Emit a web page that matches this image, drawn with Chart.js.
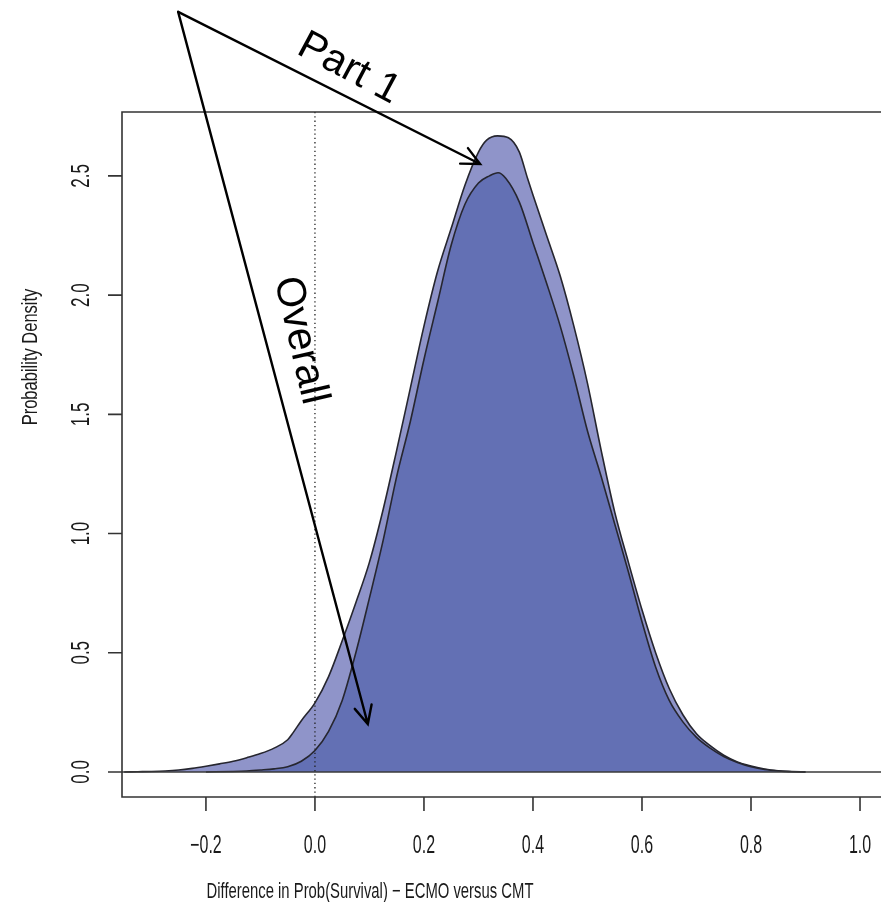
<!DOCTYPE html>
<html>
<head>
<meta charset="utf-8">
<script src="https://cdn.jsdelivr.net/npm/chart.js@4.4.0/dist/chart.umd.min.js"></script>
<style>
    body { margin: 0; background: #fff; }
    canvas { display: block; }
</style>
</head>
<body>
<canvas id="densityChart" width="881" height="902"></canvas>
<script>
// density curves
const part1X = [-0.35, -0.325, -0.3, -0.275, -0.25, -0.225, -0.2, -0.175, -0.15, -0.125, -0.1, -0.075, -0.05, -0.04, -0.025, 0.0, 0.025, 0.05, 0.075, 0.1, 0.125, 0.15, 0.175, 0.2, 0.225, 0.25, 0.275, 0.3, 0.315, 0.335, 0.355, 0.375, 0.39, 0.4, 0.425, 0.45, 0.475, 0.5, 0.525, 0.55, 0.575, 0.6, 0.625, 0.65, 0.675, 0.7, 0.725, 0.75, 0.775, 0.8, 0.825, 0.85, 0.875, 0.9];
const part1Y = [0.0, 0.001, 0.002, 0.004, 0.008, 0.015, 0.024, 0.034, 0.045, 0.06, 0.077, 0.1, 0.135, 0.165, 0.215, 0.29, 0.4, 0.55, 0.71, 0.88, 1.1, 1.35, 1.61, 1.87, 2.1, 2.28, 2.46, 2.6, 2.65, 2.668, 2.66, 2.6, 2.49, 2.42, 2.25, 2.08, 1.87, 1.63, 1.35, 1.09, 0.88, 0.68, 0.5, 0.35, 0.24, 0.16, 0.11, 0.07, 0.042, 0.025, 0.012, 0.005, 0.002, 0.0];

const overallX = [-0.2, -0.15, -0.125, -0.1, -0.075, -0.05, -0.025, 0.0, 0.025, 0.05, 0.075, 0.1, 0.125, 0.15, 0.175, 0.2, 0.225, 0.25, 0.275, 0.3, 0.32, 0.336, 0.35, 0.375, 0.4, 0.425, 0.45, 0.475, 0.5, 0.525, 0.55, 0.575, 0.6, 0.625, 0.65, 0.675, 0.7, 0.725, 0.75, 0.775, 0.8, 0.825, 0.85, 0.875, 0.9];
const overallY = [0.0, 0.002, 0.004, 0.008, 0.013, 0.022, 0.045, 0.09, 0.17, 0.3, 0.5, 0.73, 0.97, 1.24, 1.47, 1.73, 1.97, 2.21, 2.38, 2.47, 2.5, 2.513, 2.49, 2.39, 2.22, 2.05, 1.87, 1.66, 1.43, 1.24, 1.04, 0.84, 0.63, 0.44, 0.3, 0.21, 0.145, 0.1, 0.065, 0.04, 0.022, 0.01, 0.004, 0.001, 0.0];

const xTicks = [-0.2, 0.0, 0.2, 0.4, 0.6, 0.8, 1.0];
const xTickLabels = ['\u22120.2', '0.0', '0.2', '0.4', '0.6', '0.8', '1.0'];
const yTicks = [0.0, 0.5, 1.0, 1.5, 2.0, 2.5];
const yTickLabels = ['0.0', '0.5', '1.0', '1.5', '2.0', '2.5'];

const xTitle = 'Difference in Prob(Survival) \u2212 ECMO versus CMT';
const yTitle = 'Probability Density';

// hand-drawn arrows, anchored in data units
const arrowStart = { x: -0.251, y: 3.188 };
const arrowTips = [
    { x: 0.303, y: 2.55 },
    { x: 0.097, y: 0.201 }
];
const notes = [
    { text: 'Part 1', x: 0.062, y: 2.95, angle: 28 },
    { text: 'Overall', x: -0.027, y: 1.81, angle: 77 }
];

function toPoints(xs, ys) {
    return xs.map((x, i) => ({ x: x, y: ys[i] }));
}

// R output here is squashed sideways, so text is narrowed
function squeezedText(ctx, text, x, y, rot, font, squeeze) {
    ctx.save();
    ctx.translate(x, y);
    ctx.rotate(rot);
    ctx.scale(squeeze, 1);
    ctx.font = font;
    ctx.textAlign = 'center';
    ctx.textBaseline = 'middle';
    ctx.fillText(text, 0, 0);
    ctx.restore();
}

const rAxes = {
    id: 'rAxes',
    afterDatasetsDraw(chart) {
        const { ctx, chartArea: a, scales: { x, y } } = chart;
        ctx.save();
        ctx.beginPath();
        ctx.rect(a.left, a.top, a.right - a.left, a.bottom - a.top);
        ctx.clip();
        // zero line
        ctx.strokeStyle = '#3a3a3a';
        ctx.lineWidth = 1.6;
        ctx.beginPath();
        ctx.moveTo(a.left, y.getPixelForValue(0));
        ctx.lineTo(a.right, y.getPixelForValue(0));
        ctx.stroke();
        // dotted reference at 0
        ctx.strokeStyle = '#222';
        ctx.lineWidth = 1.3;
        ctx.setLineDash([1.3, 3]);
        ctx.beginPath();
        ctx.moveTo(x.getPixelForValue(0), a.top);
        ctx.lineTo(x.getPixelForValue(0), a.bottom);
        ctx.stroke();
        ctx.restore();

        ctx.save();
        ctx.strokeStyle = '#333';
        ctx.lineWidth = 1.6;
        ctx.beginPath();
        ctx.moveTo(a.right + 2, a.top);
        ctx.lineTo(a.left, a.top);
        ctx.lineTo(a.left, a.bottom);
        ctx.lineTo(a.right + 2, a.bottom);
        ctx.stroke();

        ctx.fillStyle = '#1a1a1a';
        ctx.beginPath();
        xTicks.forEach(v => {
            const px = x.getPixelForValue(v);
            ctx.moveTo(px, a.bottom);
            ctx.lineTo(px, a.bottom + 14);
        });
        yTicks.forEach(v => {
            const py = y.getPixelForValue(v);
            ctx.moveTo(a.left - 14, py);
            ctx.lineTo(a.left, py);
        });
        ctx.stroke();

        const tickFont = '25px "Liberation Sans", Arial, sans-serif';
        const titleFont = '22px "Liberation Sans", Arial, sans-serif';
        xTicks.forEach((v, i) => {
            squeezedText(ctx, xTickLabels[i], x.getPixelForValue(v), a.bottom + 49, 0, tickFont, 0.64);
        });
        yTicks.forEach((v, i) => {
            squeezedText(ctx, yTickLabels[i], a.left - 40, y.getPixelForValue(v), -Math.PI / 2, tickFont, 0.68);
        });
        squeezedText(ctx, xTitle, 370, a.bottom + 95, 0, titleFont, 0.675);
        squeezedText(ctx, yTitle, 31, 357, -Math.PI / 2, titleFont, 0.75);
        ctx.restore();
    },
    afterDraw(chart) {
        const { ctx, scales: { x, y } } = chart;
        const sx = x.getPixelForValue(arrowStart.x);
        const sy = y.getPixelForValue(arrowStart.y);
        ctx.save();
        ctx.strokeStyle = '#000';
        ctx.lineWidth = 2.4;
        ctx.lineCap = 'round';
        arrowTips.forEach(t => {
            const tx = x.getPixelForValue(t.x);
            const ty = y.getPixelForValue(t.y);
            const ang = Math.atan2(ty - sy, tx - sx);
            ctx.beginPath();
            ctx.moveTo(sx, sy);
            ctx.lineTo(tx, ty);
            ctx.moveTo(tx - 20 * Math.cos(ang - 0.45), ty - 20 * Math.sin(ang - 0.45));
            ctx.lineTo(tx, ty);
            ctx.lineTo(tx - 20 * Math.cos(ang + 0.45), ty - 20 * Math.sin(ang + 0.45));
            ctx.stroke();
        });
        ctx.fillStyle = '#000';
        ctx.font = '41px "Liberation Sans", Arial, sans-serif';
        ctx.textAlign = 'center';
        ctx.textBaseline = 'middle';
        notes.forEach(n => {
            ctx.save();
            ctx.translate(x.getPixelForValue(n.x), y.getPixelForValue(n.y));
            ctx.rotate(n.angle * Math.PI / 180);
            ctx.fillText(n.text, 0, 0);
            ctx.restore();
        });
        ctx.restore();
    }
};

new Chart(document.getElementById('densityChart'), {
    type: 'line',
    data: {
        datasets: [{
            label: 'Overall',
            data: toPoints(overallX, overallY),
            backgroundColor: '#6370b4',
            borderColor: '#26262f',
            borderWidth: 1.6,
            fill: 'origin',
            pointRadius: 0,
            cubicInterpolationMode: 'monotone'
        }, {
            label: 'Part 1',
            data: toPoints(part1X, part1Y),
            backgroundColor: '#8f94c9',
            borderColor: '#26262f',
            borderWidth: 1.6,
            fill: 'origin',
            pointRadius: 0,
            cubicInterpolationMode: 'monotone'
        }]
    },
    options: {
        responsive: false,
        animation: false,
        devicePixelRatio: 1,
        layout: {
            padding: { left: 122, top: 112, right: 0, bottom: 105 }
        },
        plugins: {
            legend: { display: false },
            tooltip: { enabled: false }
        },
        scales: {
            x: { type: 'linear', display: false, min: -0.354, max: 1.0385 },
            y: { type: 'linear', display: false, min: -0.105, max: 2.768 }
        }
    },
    plugins: [rAxes]
});
</script>
</body>
</html>
